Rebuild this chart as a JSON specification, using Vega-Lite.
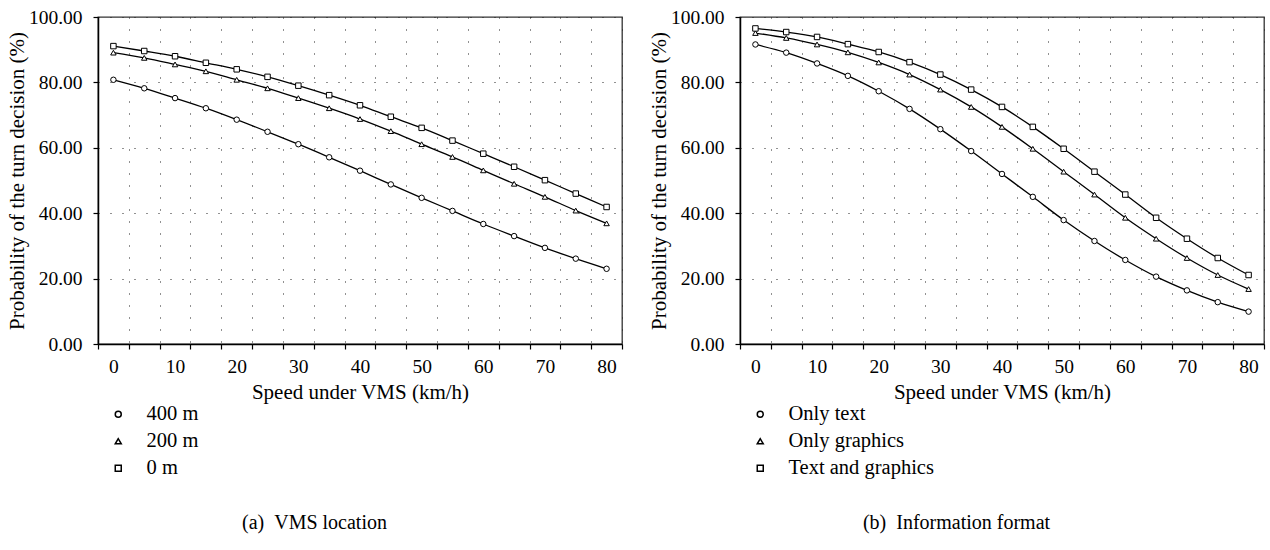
{
  "$schema": "https://vega.github.io/schema/vega-lite/v6.json",
  "padding": {"left": 5, "top": 6, "right": 5, "bottom": 5},
  "bounds": "flush",
  "spacing": 118,
  "background": "white",
  "resolve": {"scale": {"shape": "independent"}, "legend": {"shape": "independent"}},
  "config": {
    "view": {"stroke": "#333", "strokeWidth": 1.3},
    "font": "Liberation Serif",
    "axis": {
      "domainColor": "black", "domainWidth": 1.5,
      "tickColor": "black", "tickSize": 5, "tickWidth": 1.2,
      "labelFont": "Liberation Serif", "labelFontSize": 19.5, "labelColor": "black",
      "titleFont": "Liberation Serif", "titleFontSize": 21, "titleFontWeight": "normal", "titleColor": "black",
      "gridColor": "#222", "gridDash": [1, 11], "gridWidth": 1, "gridOpacity": 1
    },
    "legend": {
      "orient": "none", "legendX": 10, "legendY": 387, "direction": "vertical",
      "padding": 0, "labelFont": "Liberation Serif", "labelFontSize": 20.5, "labelColor": "black",
      "labelOffset": 18, "rowPadding": 6, "symbolSize": 36
    },
    "title": {"font": "Liberation Serif", "fontSize": 20, "fontWeight": "normal", "color": "black", "orient": "bottom", "anchor": "middle", "frame": "bounds", "offset": 34}
  },
  "datasets": {
    "a": [
      {"v": 0, "p": 80.8, "s": "400 m"}, {"v": 5, "p": 78.2, "s": "400 m"}, {"v": 10, "p": 75.2, "s": "400 m"}, {"v": 15, "p": 72.1, "s": "400 m"}, {"v": 20, "p": 68.6, "s": "400 m"}, {"v": 25, "p": 64.9, "s": "400 m"}, {"v": 30, "p": 61.1, "s": "400 m"}, {"v": 35, "p": 57.1, "s": "400 m"}, {"v": 40, "p": 53.0, "s": "400 m"}, {"v": 45, "p": 48.8, "s": "400 m"}, {"v": 50, "p": 44.7, "s": "400 m"}, {"v": 55, "p": 40.7, "s": "400 m"}, {"v": 60, "p": 36.7, "s": "400 m"}, {"v": 65, "p": 33.0, "s": "400 m"}, {"v": 70, "p": 29.4, "s": "400 m"}, {"v": 75, "p": 26.1, "s": "400 m"}, {"v": 80, "p": 23.0, "s": "400 m"},
      {"v": 0, "p": 89.1, "s": "200 m"}, {"v": 5, "p": 87.5, "s": "200 m"}, {"v": 10, "p": 85.5, "s": "200 m"}, {"v": 15, "p": 83.4, "s": "200 m"}, {"v": 20, "p": 80.8, "s": "200 m"}, {"v": 25, "p": 78.2, "s": "200 m"}, {"v": 30, "p": 75.2, "s": "200 m"}, {"v": 35, "p": 72.1, "s": "200 m"}, {"v": 40, "p": 68.8, "s": "200 m"}, {"v": 45, "p": 65.1, "s": "200 m"}, {"v": 50, "p": 61.1, "s": "200 m"}, {"v": 55, "p": 57.2, "s": "200 m"}, {"v": 60, "p": 53.1, "s": "200 m"}, {"v": 65, "p": 49.0, "s": "200 m"}, {"v": 70, "p": 45.0, "s": "200 m"}, {"v": 75, "p": 40.8, "s": "200 m"}, {"v": 80, "p": 36.9, "s": "200 m"},
      {"v": 0, "p": 91.1, "s": "0 m"}, {"v": 5, "p": 89.6, "s": "0 m"}, {"v": 10, "p": 88.0, "s": "0 m"}, {"v": 15, "p": 86.0, "s": "0 m"}, {"v": 20, "p": 84.0, "s": "0 m"}, {"v": 25, "p": 81.7, "s": "0 m"}, {"v": 30, "p": 79.0, "s": "0 m"}, {"v": 35, "p": 76.1, "s": "0 m"}, {"v": 40, "p": 73.0, "s": "0 m"}, {"v": 45, "p": 69.5, "s": "0 m"}, {"v": 50, "p": 66.1, "s": "0 m"}, {"v": 55, "p": 62.2, "s": "0 m"}, {"v": 60, "p": 58.2, "s": "0 m"}, {"v": 65, "p": 54.2, "s": "0 m"}, {"v": 70, "p": 50.1, "s": "0 m"}, {"v": 75, "p": 46.0, "s": "0 m"}, {"v": 80, "p": 41.9, "s": "0 m"}
    ],
    "b": [
      {"v": 0, "p": 91.6, "s": "Only text"}, {"v": 5, "p": 89.1, "s": "Only text"}, {"v": 10, "p": 85.8, "s": "Only text"}, {"v": 15, "p": 82.0, "s": "Only text"}, {"v": 20, "p": 77.3, "s": "Only text"}, {"v": 25, "p": 71.9, "s": "Only text"}, {"v": 30, "p": 65.7, "s": "Only text"}, {"v": 35, "p": 59.0, "s": "Only text"}, {"v": 40, "p": 52.0, "s": "Only text"}, {"v": 45, "p": 45.0, "s": "Only text"}, {"v": 50, "p": 37.9, "s": "Only text"}, {"v": 55, "p": 31.5, "s": "Only text"}, {"v": 60, "p": 25.7, "s": "Only text"}, {"v": 65, "p": 20.6, "s": "Only text"}, {"v": 70, "p": 16.4, "s": "Only text"}, {"v": 75, "p": 12.8, "s": "Only text"}, {"v": 80, "p": 9.9, "s": "Only text"},
      {"v": 0, "p": 95.1, "s": "Only graphics"}, {"v": 5, "p": 93.6, "s": "Only graphics"}, {"v": 10, "p": 91.6, "s": "Only graphics"}, {"v": 15, "p": 89.2, "s": "Only graphics"}, {"v": 20, "p": 86.1, "s": "Only graphics"}, {"v": 25, "p": 82.4, "s": "Only graphics"}, {"v": 30, "p": 77.8, "s": "Only graphics"}, {"v": 35, "p": 72.5, "s": "Only graphics"}, {"v": 40, "p": 66.4, "s": "Only graphics"}, {"v": 45, "p": 59.7, "s": "Only graphics"}, {"v": 50, "p": 52.7, "s": "Only graphics"}, {"v": 55, "p": 45.7, "s": "Only graphics"}, {"v": 60, "p": 38.6, "s": "Only graphics"}, {"v": 65, "p": 32.2, "s": "Only graphics"}, {"v": 70, "p": 26.3, "s": "Only graphics"}, {"v": 75, "p": 21.1, "s": "Only graphics"}, {"v": 80, "p": 16.8, "s": "Only graphics"},
      {"v": 0, "p": 96.5, "s": "Text and graphics"}, {"v": 5, "p": 95.4, "s": "Text and graphics"}, {"v": 10, "p": 93.9, "s": "Text and graphics"}, {"v": 15, "p": 91.7, "s": "Text and graphics"}, {"v": 20, "p": 89.3, "s": "Text and graphics"}, {"v": 25, "p": 86.2, "s": "Text and graphics"}, {"v": 30, "p": 82.4, "s": "Text and graphics"}, {"v": 35, "p": 77.8, "s": "Text and graphics"}, {"v": 40, "p": 72.5, "s": "Text and graphics"}, {"v": 45, "p": 66.4, "s": "Text and graphics"}, {"v": 50, "p": 59.7, "s": "Text and graphics"}, {"v": 55, "p": 52.7, "s": "Text and graphics"}, {"v": 60, "p": 45.7, "s": "Text and graphics"}, {"v": 65, "p": 38.6, "s": "Text and graphics"}, {"v": 70, "p": 32.2, "s": "Text and graphics"}, {"v": 75, "p": 26.3, "s": "Text and graphics"}, {"v": 80, "p": 21.1, "s": "Text and graphics"}
    ]
  },
  "hconcat": [
    {
      "width": 524, "height": 327,
      "data": {"name": "a"},
      "title": {"text": "(a)\u2002VMS location"},
      "encoding": {
        "x": {"field": "v", "type": "ordinal", "bandPosition": 0.5,
          "scale": {"type": "band", "paddingInner": 0, "paddingOuter": 0, "domain": [0,5,10,15,20,25,30,35,40,45,50,55,60,65,70,75,80]},
          "axis": {"title": "Speed under VMS (km/h)", "tickBand": "extent", "grid": true, "labelAngle": 0, "labelOverlap": false, "labelExpr": "datum.value % 10 === 0 ? datum.label : ''", "labelPadding": 8, "titlePadding": 6}},
        "y": {"field": "p", "type": "quantitative",
          "scale": {"domain": [0, 100], "nice": false},
          "axis": {"title": "Probability of the turn decision (%)", "values": [0,20,40,60,80,100], "format": ".2f", "grid": true, "labelPadding": 11, "titlePadding": 1}}
      },
      "layer": [
        {"mark": {"type": "line", "interpolate": "monotone", "color": "black", "strokeWidth": 1.3},
         "encoding": {"detail": {"field": "s", "type": "nominal"}}},
        {"mark": {"type": "point", "filled": true, "fill": "white", "stroke": "black", "strokeWidth": 1, "size": 30, "opacity": 1},
         "encoding": {"shape": {"field": "s", "type": "nominal",
           "scale": {"domain": ["400 m", "200 m", "0 m"], "range": ["circle", "triangle-up", "square"]},
           "legend": {"title": null}}}}
      ]
    },
    {
      "width": 524, "height": 327,
      "data": {"name": "b"},
      "title": {"text": "(b)\u2002Information format"},
      "encoding": {
        "x": {"field": "v", "type": "ordinal", "bandPosition": 0.5,
          "scale": {"type": "band", "paddingInner": 0, "paddingOuter": 0, "domain": [0,5,10,15,20,25,30,35,40,45,50,55,60,65,70,75,80]},
          "axis": {"title": "Speed under VMS (km/h)", "tickBand": "extent", "grid": true, "labelAngle": 0, "labelOverlap": false, "labelExpr": "datum.value % 10 === 0 ? datum.label : ''", "labelPadding": 8, "titlePadding": 6}},
        "y": {"field": "p", "type": "quantitative",
          "scale": {"domain": [0, 100], "nice": false},
          "axis": {"title": "Probability of the turn decision (%)", "values": [0,20,40,60,80,100], "format": ".2f", "grid": true, "labelPadding": 11, "titlePadding": 1}}
      },
      "layer": [
        {"mark": {"type": "line", "interpolate": "monotone", "color": "black", "strokeWidth": 1.3},
         "encoding": {"detail": {"field": "s", "type": "nominal"}}},
        {"mark": {"type": "point", "filled": true, "fill": "white", "stroke": "black", "strokeWidth": 1, "size": 30, "opacity": 1},
         "encoding": {"shape": {"field": "s", "type": "nominal",
           "scale": {"domain": ["Only text", "Only graphics", "Text and graphics"], "range": ["circle", "triangle-up", "square"]},
           "legend": {"title": null}}}}
      ]
    }
  ]
}
